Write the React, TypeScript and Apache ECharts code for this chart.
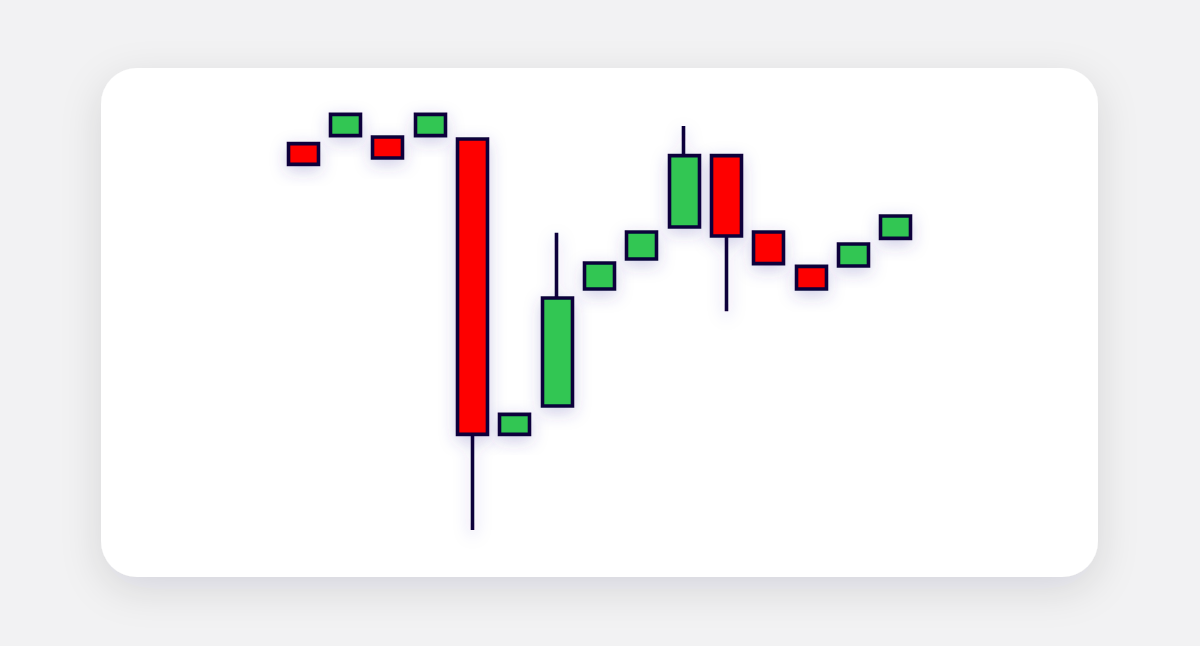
import React, { useEffect, useRef } from "react";
import * as echarts from "echarts";

const categories = ["1", "2", "3", "4", "5", "6", "7", "8", "9", "10", "11", "12", "13", "14", "15"];
// [open, close, low, high]
const opens = [101.6, 103.6, 103.25, 103.6, 102.75, 28.9, 36.0, 65.25, 72.75, 80.75, 98.6, 79.5, 70.9, 71.0, 77.9];
const closes = [96.4, 108.9, 98.0, 108.9, 28.9, 33.9, 63.0, 71.75, 79.5, 98.6, 78.5, 71.6, 65.25, 76.5, 83.5];
const lows = [96.4, 103.6, 98.0, 103.6, 5.0, 28.9, 36.0, 65.25, 72.75, 80.75, 59.7, 71.6, 65.25, 71.0, 77.9];
const highs = [101.6, 108.9, 103.25, 108.9, 102.75, 33.9, 79.3, 71.75, 79.5, 106.0, 98.6, 79.5, 70.9, 76.5, 83.5];

export default function App() {
  const ref = useRef<HTMLDivElement>(null);
  useEffect(() => {
    if (!ref.current) return;
    const chart = echarts.init(ref.current, undefined, { renderer: "svg" });
    const data = categories.map((_, i) => [opens[i], closes[i], lows[i], highs[i]]);
    chart.setOption({
      animation: false,
      backgroundColor: "#f2f2f3",
      graphic: [
        {
          type: "rect",
          z: -10,
          shape: { x: 101, y: 68, width: 997, height: 509, r: 36 },
          style: {
            fill: "#ffffff",
            shadowBlur: 40,
            shadowOffsetY: 12,
            shadowColor: "rgba(20,20,60,0.12)",
          },
        },
      ],
      grid: { left: 282, width: 635, top: 110, height: 440 },
      xAxis: {
        type: "category",
        data: categories,
        boundaryGap: true,
        show: false,
      },
      yAxis: { type: "value", min: 0, max: 110, show: false },
      series: [
        {
          type: "candlestick",
          data,
          barWidth: 30.5,
          itemStyle: {
            color: "#33c653",
            color0: "#fe0000",
            borderColor: "#07063a",
            borderColor0: "#07063a",
            borderWidth: 3.6,
            shadowBlur: 16,
            shadowOffsetY: 5,
            shadowColor: "rgba(70,60,160,0.25)",
          },
        },
      ],
    });
    return () => chart.dispose();
  }, []);
  return (
    <div
      ref={ref}
      style={{ position: "fixed", left: 0, top: 0, width: 1200, height: 646 }}
    />
  );
}
